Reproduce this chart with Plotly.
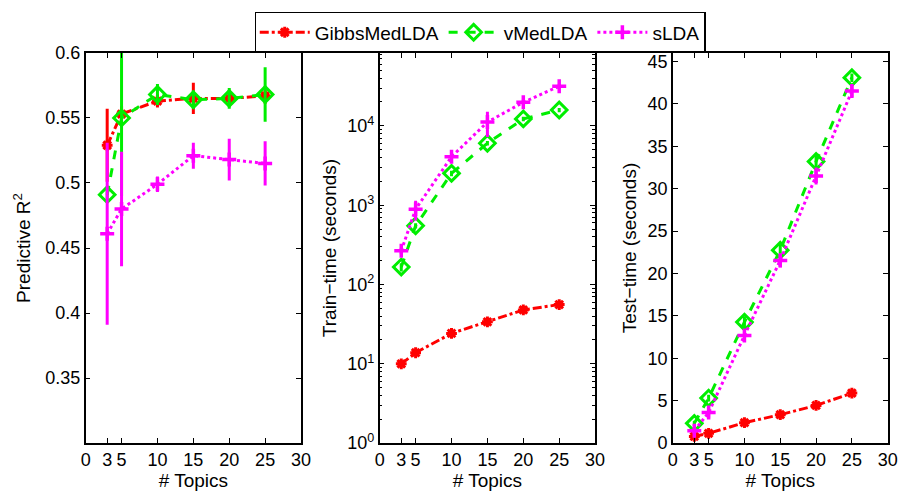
import plotly.graph_objects as go

topics = [3, 5, 10, 15, 20, 25]
series_names = ["GibbsMedLDA", "vMedLDA", "sLDA"]

# Panel 1: Predictive R^2
r2_gibbs = [0.529, 0.553, 0.563, 0.565, 0.565, 0.567]
r2_gibbs_err = [0.028, 0.006, 0.005, 0.012, 0.006, 0.006]
r2_vmed = [0.491, 0.550, 0.568, 0.564, 0.565, 0.568]
r2_vmed_err = [0.004, 0.06, 0.008, 0.007, 0.008, 0.021]
r2_slda = [0.461, 0.480, 0.499, 0.521, 0.518, 0.515]
r2_slda_err = [0.070, 0.044, 0.006, 0.010, 0.016, 0.017]

# Panel 2: Train-time (seconds), log scale
train_gibbs = [10, 13.8, 24.2, 33.8, 47.8, 55.8]
train_gibbs_err = [0.5, 0.8, 1.5, 2, 2.5, 3]
train_vmed = [166, 550, 2520, 6040, 12250, 15850]
train_vmed_err = [20, 40, 200, 400, 800, 1000]
train_slda = [266, 890, 4080, 11150, 19850, 31600]
train_slda_err = [25, 250, 300, 3900, 1500, 2000]

# Panel 3: Test-time (seconds)
test_gibbs = [0.79, 1.16, 2.41, 3.35, 4.44, 5.9]
test_gibbs_err = [0.1, 0.1, 0.15, 0.2, 0.2, 0.2]
test_vmed = [2.33, 5.31, 14.27, 22.75, 33.2, 43.08]
test_vmed_err = [0.3, 0.4, 0.7, 0.7, 0.7, 0.5]
test_slda = [1.47, 3.6, 12.69, 21.54, 31.48, 41.5]
test_slda_err = [0.4, 0.6, 0.5, 0.8, 1.0, 0.7]

x_ticks = [0, 3, 5, 10, 15, 20, 25, 30]

styles = {
    "GibbsMedLDA": dict(color="#ff0000", dash="dashdot", symbol="asterisk-open", msize=9, mlw=3),
    "vMedLDA": dict(color="#00ee00", dash="dash", symbol="diamond-open", msize=12, mlw=3),
    "sLDA": dict(color="#ff00ff", dash="dot", symbol="cross-thin-open", msize=10, mlw=3.5),
}

panels = [
    ([r2_gibbs, r2_vmed, r2_slda], [r2_gibbs_err, r2_vmed_err, r2_slda_err]),
    ([train_gibbs, train_vmed, train_slda], [train_gibbs_err, train_vmed_err, train_slda_err]),
    ([test_gibbs, test_vmed, test_slda], [test_gibbs_err, test_vmed_err, test_slda_err]),
]

fig = go.Figure()
for p, (vals, errs) in enumerate(panels):
    xa = "x" if p == 0 else f"x{p+1}"
    ya = "y" if p == 0 else f"y{p+1}"
    for name, v, e in zip(series_names, vals, errs):
        s = styles[name]
        fig.add_trace(go.Scatter(
            x=topics, y=v, name=name, xaxis=xa, yaxis=ya,
            mode="lines+markers",
            line=dict(color=s["color"], dash=s["dash"], width=3),
            marker=dict(symbol=s["symbol"], size=s["msize"], color=s["color"],
                        line=dict(color=s["color"], width=s["mlw"])),
            error_y=dict(type="data", array=e, visible=True, color=s["color"],
                         thickness=3, width=0),
            showlegend=(p == 0), legendgroup=name,
        ))

FAM = "Liberation Sans, Arial, sans-serif"
tick_font = dict(family=FAM, size=18, color="black")
title_font = dict(family=FAM, size=19, color="black")
axis_common = dict(showline=True, linecolor="black", linewidth=1.5, mirror="ticks",
                   ticks="inside", ticklen=5, tickcolor="black", showgrid=False,
                   zeroline=False, tickfont=tick_font)

doms_x = [[82/910, 301/910], [381/910, 600/910], [679/910, 897.5/910]]
dom_y = [1 - 451.3/497, 1 - 44.7/497]

layout = dict(
    width=910, height=497, margin=dict(l=0, r=0, t=0, b=0),
    paper_bgcolor="white", plot_bgcolor="white", font=tick_font,
    showlegend=True,
    legend=dict(orientation="h", x=0.531, xanchor="center", y=0.996, yanchor="top",
                bordercolor="black", borderwidth=1.5, bgcolor="white",
                font=dict(family=FAM, size=19, color="black"),
                tracegroupgap=0, itemwidth=50),
)
for i in range(3):
    k = "" if i == 0 else str(i + 1)
    layout[f"xaxis{k}"] = dict(axis_common, domain=doms_x[i], range=[0, 30],
                               tickvals=x_ticks, ticktext=[str(t) for t in x_ticks],
                               anchor=f"y{k}",
                               title=dict(text="# Topics", font=title_font, standoff=2))
layout["yaxis"] = dict(axis_common, domain=dom_y, range=[0.3, 0.6], anchor="x",
                       tickvals=[0.35, 0.4, 0.45, 0.5, 0.55, 0.6],
                       ticktext=["0.35", "0.4", "0.45", "0.5", "0.55", "0.6"],
                       title=dict(text="Predictive R<sup>2</sup>", font=title_font, standoff=10))
layout["yaxis2"] = dict(axis_common, domain=dom_y, type="log", range=[0, 4.92], anchor="x2",
                        tickvals=[1, 10, 100, 1000, 10000],
                        ticktext=["10<sup>0</sup>", "10<sup>1</sup>", "10<sup>2</sup>",
                                  "10<sup>3</sup>", "10<sup>4</sup>"],
                        minor=dict(ticks="inside", ticklen=3, tickcolor="black",
                                   tickvals=[m * 10**d for d in range(0, 5) for m in range(2, 10)]),
                        title=dict(text="Train\u2212time (seconds)", font=title_font, standoff=6))
layout["yaxis3"] = dict(axis_common, domain=dom_y, range=[0, 46], anchor="x3",
                        tickvals=[0, 5, 10, 15, 20, 25, 30, 35, 40, 45],
                        title=dict(text="Test\u2212time (seconds)", font=title_font, standoff=6))

fig.update_layout(**layout)
fig.write_html("out.html", config={"displayModeBar": False},
               post_script="document.body.style.margin='0';document.body.style.padding='0';")
